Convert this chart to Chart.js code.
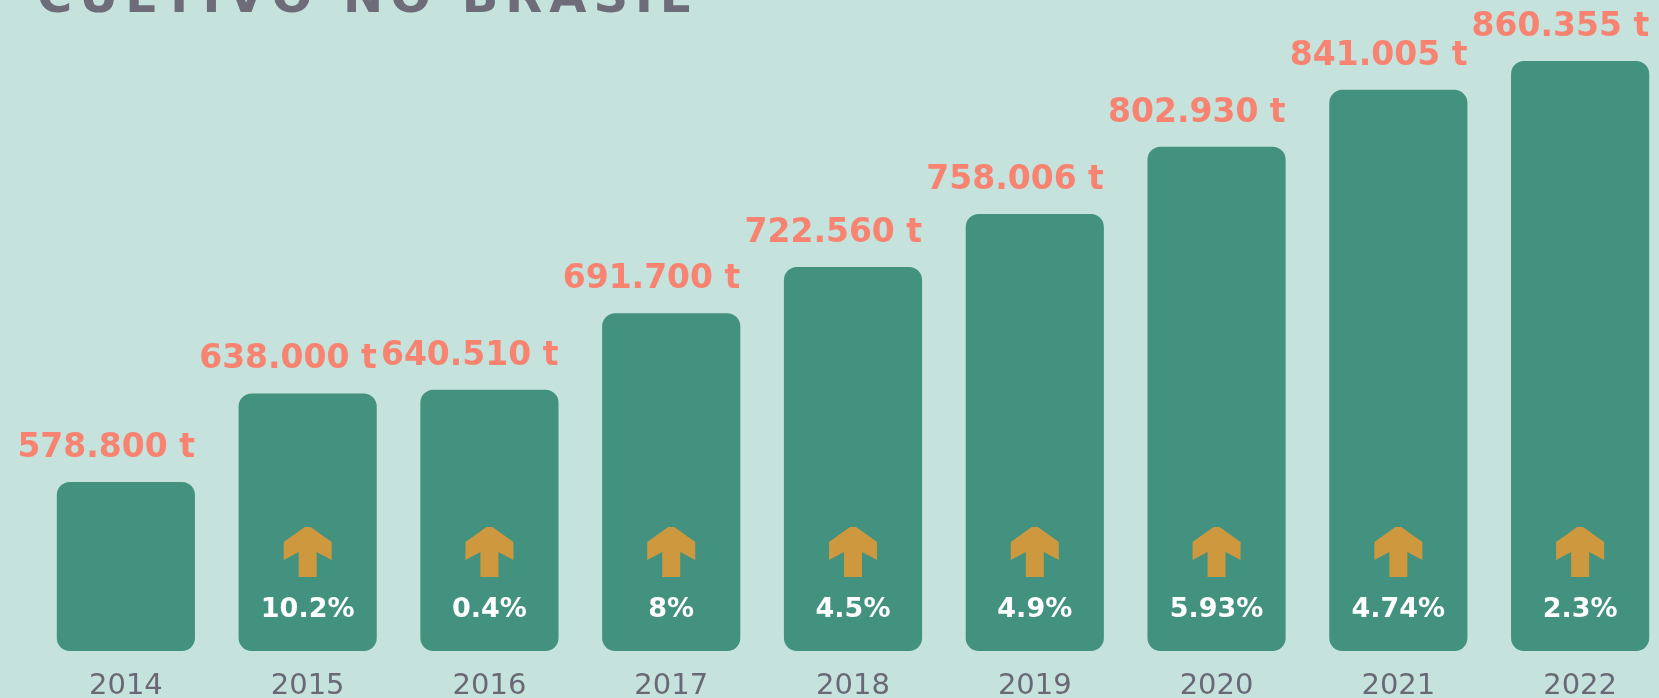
<!DOCTYPE html>
<html>
<head>
<meta charset="utf-8">
<script src="https://cdn.jsdelivr.net/npm/chart.js@4/dist/chart.umd.min.js"></script>
<style>
  html, body { margin: 0; padding: 0; background: #C5E2DC; overflow: hidden; width: 1659px; height: 698px; }
  #wrap { position: absolute; left: 0; top: 0; width: 1700px; height: 722px; }
</style>
</head>
<body>
<div id="wrap"><canvas id="c" width="1700" height="722"></canvas></div>
<script>
// ---- data ----
const titleText = "CULTIVO NO BRASIL";
const years = ["2014", "2015", "2016", "2017", "2018", "2019", "2020", "2021", "2022"];
const production = [578800, 638000, 640510, 691700, 722560, 758006, 802930, 841005, 860355];
const growth = ["", "10.2%", "0.4%", "8%", "4.5%", "4.9%", "5.93%", "4.74%", "2.3%"];
const unit = "t";
const yMin = 465800, yMax = 901100;

function fmt(v) {
  return String(v).replace(/\B(?=(\d{3})+(?!\d))/g, ".") + " " + unit;
}

const decor = {
  id: "decor",
  afterDatasetsDraw(chart) {
    const ctx = chart.ctx;
    const meta = chart.getDatasetMeta(0);
    const bottom = chart.chartArea.bottom;
    ctx.save();
    // title (partially clipped at top)
    ctx.fillStyle = "#6E6C78";
    ctx.font = "bold 48px 'DejaVu Sans'";
    ctx.textBaseline = "alphabetic";
    ctx.textAlign = "left";
    let tx = 37;
    for (const ch of titleText) {
      ctx.fillText(ch, tx, 12);
      tx += ctx.measureText(ch).width + 7;
    }
    meta.data.forEach((bar, i) => {
      const right = bar.x + bar.width / 2;
      // value label
      ctx.fillStyle = "#F78370";
      ctx.font = "bold 33px 'DejaVu Sans'";
      ctx.textAlign = "right";
      ctx.textBaseline = "alphabetic";
      ctx.fillText(fmt(production[i]), right, bar.y - 25);
      if (growth[i]) {
        const cx = bar.x, top = bottom - 124;
        ctx.fillStyle = "#CE983E";
        ctx.beginPath();
        ctx.moveTo(cx - 3, top);
        ctx.lineTo(cx + 3, top);
        ctx.lineTo(cx + 24, top + 15);
        ctx.lineTo(cx + 24, top + 33);
        ctx.lineTo(cx + 9, top + 25);
        ctx.lineTo(cx + 9, top + 50);
        ctx.lineTo(cx - 9, top + 50);
        ctx.lineTo(cx - 9, top + 25);
        ctx.lineTo(cx - 24, top + 33);
        ctx.lineTo(cx - 24, top + 15);
        ctx.closePath();
        ctx.fill();
        ctx.fillStyle = "#FFFFFF";
        ctx.font = "bold 27px 'DejaVu Sans'";
        ctx.textAlign = "center";
        ctx.fillText(growth[i], cx, bottom - 34);
      }
    });
    ctx.restore();
  }
};

new Chart(document.getElementById("c"), {
  type: "bar",
  data: {
    labels: years,
    datasets: [{
      data: production,
      base: yMin,
      backgroundColor: "#439280",
      borderRadius: 13,
      borderSkipped: false,
      barPercentage: 0.76,
      categoryPercentage: 1.0
    }]
  },
  options: {
    responsive: false,
    animation: false,
    events: [],
    layout: { padding: { left: 35, right: 29, top: 0, bottom: 0 } },
    plugins: { legend: { display: false }, tooltip: { enabled: false } },
    scales: {
      x: {
        grid: { display: false, drawTicks: false },
        border: { display: false },
        ticks: {
          color: "#6A6876",
          font: { family: "'DejaVu Sans'", size: 29, lineHeight: 1.0 },
          padding: 21
        }
      },
      y: { display: false, min: yMin, max: yMax }
    }
  },
  plugins: [decor]
});
</script>
</body>
</html>
